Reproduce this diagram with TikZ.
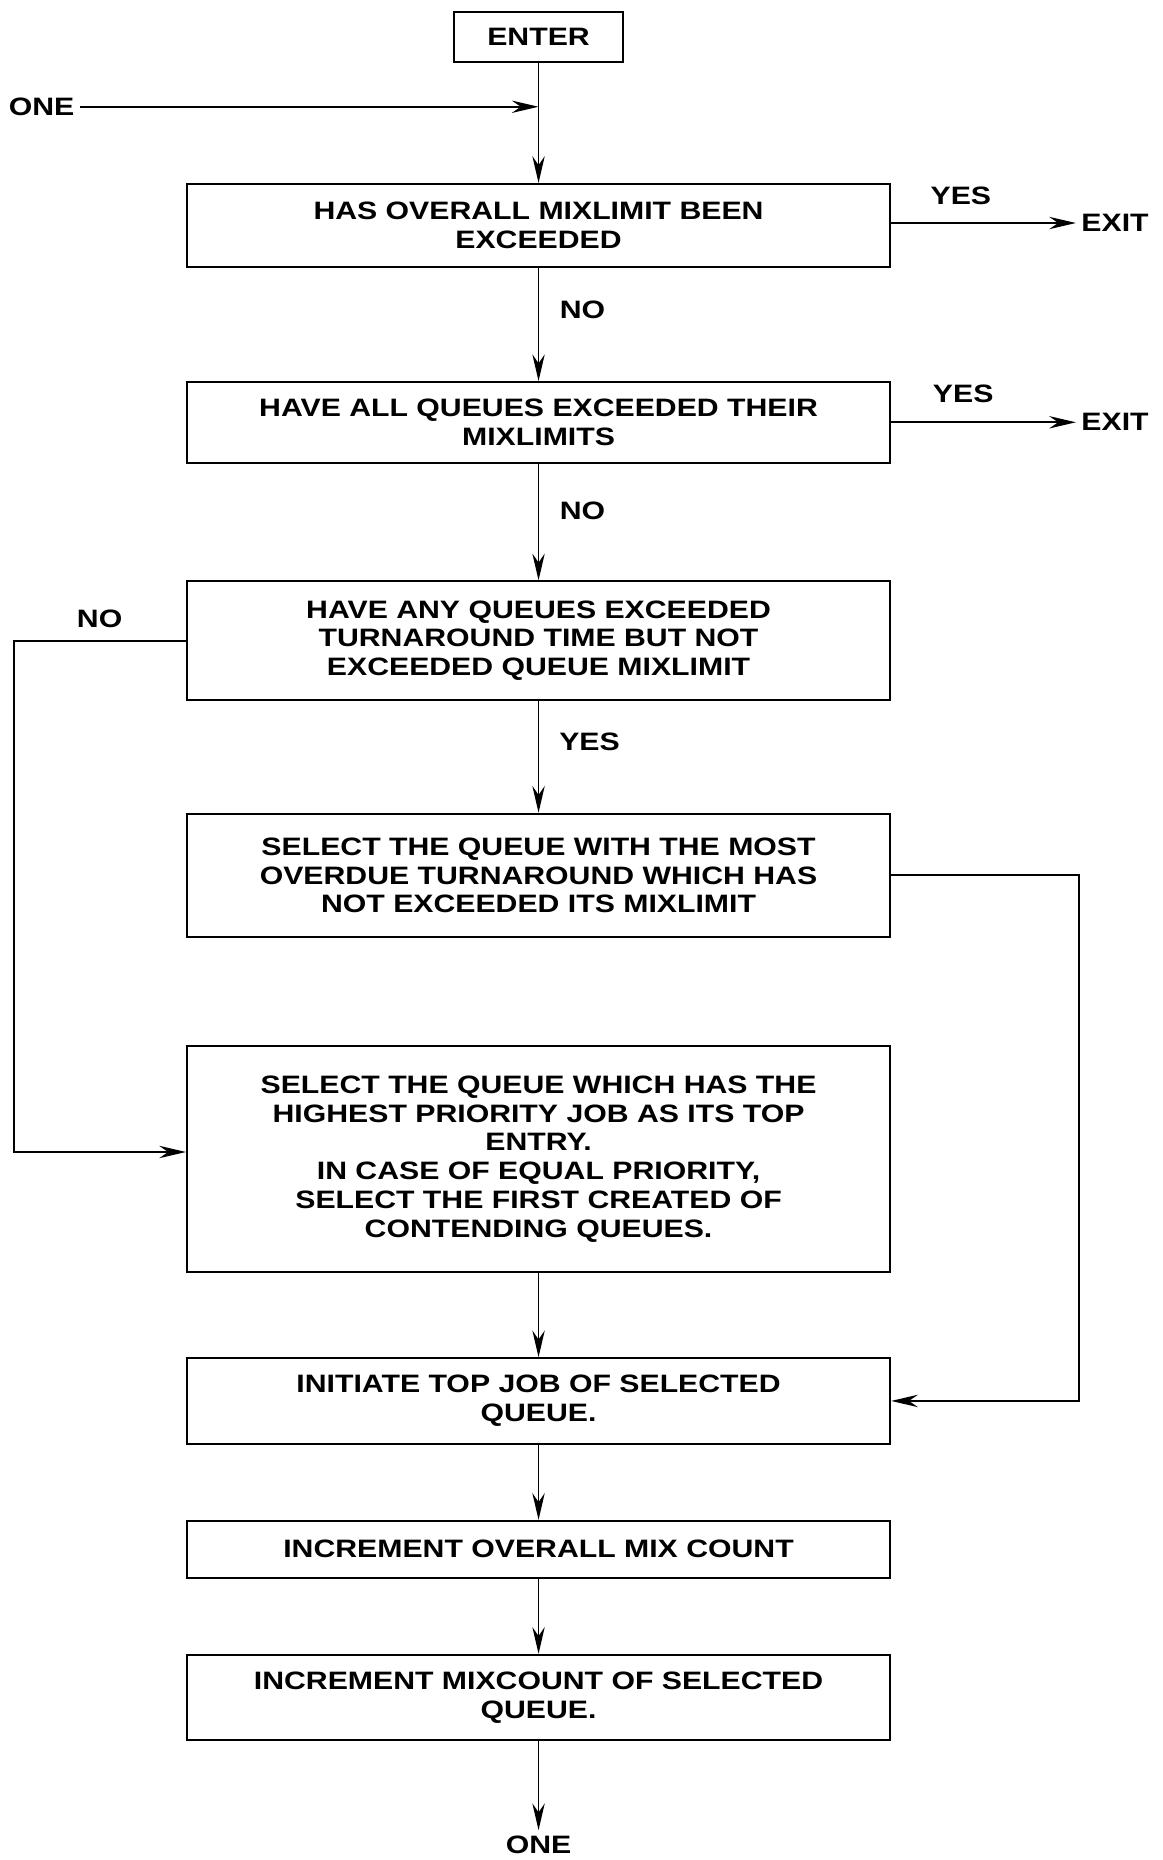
\documentclass[tikz,border=0pt]{standalone}
\usepackage{fontspec}
\setmainfont{Liberation Sans}[FakeStretch=1.2]
\usetikzlibrary{arrows.meta}

\begin{document}
\begin{tikzpicture}[x=0.024cm, y=-0.024cm,
  box/.style={draw, line width=1.1pt, minimum width=14.23cm, inner sep=0pt,
    align=center, font=\bfseries\fontsize{14.5}{16.6}\selectfont},
  lbl/.style={inner sep=3pt, font=\bfseries\fontsize{14.5}{16.6}\selectfont},
  arr/.style={line width=1pt, -{Stealth[length=5.4mm, width=2.5mm, inset=1.8mm]}},
  back/.style={arr, line width=1.2pt}]
\useasboundingbox (0,0) rectangle (980,1568);

% main column
\node[box, minimum width=3.41cm, minimum height=1.01cm] (enter) at (454,31) {ENTER};
\node[box, minimum height=1.68cm] (q1) at (454,190) {HAS OVERALL MIXLIMIT BEEN\\EXCEEDED};
\node[box, minimum height=1.63cm] (q2) at (454,356) {HAVE ALL QUEUES EXCEEDED THEIR\\MIXLIMITS};
\node[box, minimum height=2.40cm] (q3) at (454,540) {HAVE ANY QUEUES EXCEEDED\\TURNAROUND TIME BUT NOT\\EXCEEDED QUEUE MIXLIMIT};
\node[box, minimum height=2.50cm] (q4) at (454,738) {SELECT THE QUEUE WITH THE MOST\\OVERDUE TURNAROUND WHICH HAS\\NOT EXCEEDED ITS MIXLIMIT};
\node[box, minimum height=4.56cm] (q5) at (454,977) {SELECT THE QUEUE WHICH HAS THE\\HIGHEST PRIORITY JOB AS ITS TOP\\ENTRY.\\IN CASE OF EQUAL PRIORITY,\\SELECT THE FIRST CREATED OF\\CONTENDING QUEUES.};
\node[box, minimum height=1.73cm] (q6) at (454,1181) {INITIATE TOP JOB OF SELECTED\\QUEUE.};
\node[box, minimum height=1.15cm] (q7) at (454,1306) {INCREMENT OVERALL MIX COUNT};
\node[box, minimum height=1.73cm] (q8) at (454,1431) {INCREMENT MIXCOUNT OF SELECTED\\QUEUE.};

% entry and exit points
\node[lbl] (onein) at (35,90) {ONE};
\coordinate (join) at (454,90);
\node[lbl] (oneout) at (454,1555) {ONE};
\node[lbl] (exit1) at (940,188) {EXIT};
\node[lbl] (exit2) at (940,356) {EXIT};

% branch labels
\node[lbl] (yes1) at (810,165) {YES};
\node[lbl] (yes2) at (812,332) {YES};
\node[lbl] (no1) at (491,261) {NO};
\node[lbl] (no2) at (491,431) {NO};
\node[lbl] (yes3) at (497,625) {YES};
\node[lbl] (no3) at (84,522) {NO};

\draw[arr] (onein) -- (join);
\draw[arr] (enter) -- (q1);
\draw[arr] (q1) -- (q2);
\draw[arr] (q2) -- (q3);
\draw[arr] (q3) -- (q4);
\draw[arr] (q5) -- (q6);
\draw[arr] (q6) -- (q7);
\draw[arr] (q7) -- (q8);
\draw[arr] (q8) -- (oneout);
\draw[arr] (q1.east |- exit1) -- (exit1);
\draw[arr] (q2.east) -- (exit2);
\draw[back] (q3.west) -- ++(-145,0) |- ([yshift=4pt]q5.west);
\draw[back] (q4.east) -- ++(158,0) |- (q6.east);
\end{tikzpicture}
\end{document}
